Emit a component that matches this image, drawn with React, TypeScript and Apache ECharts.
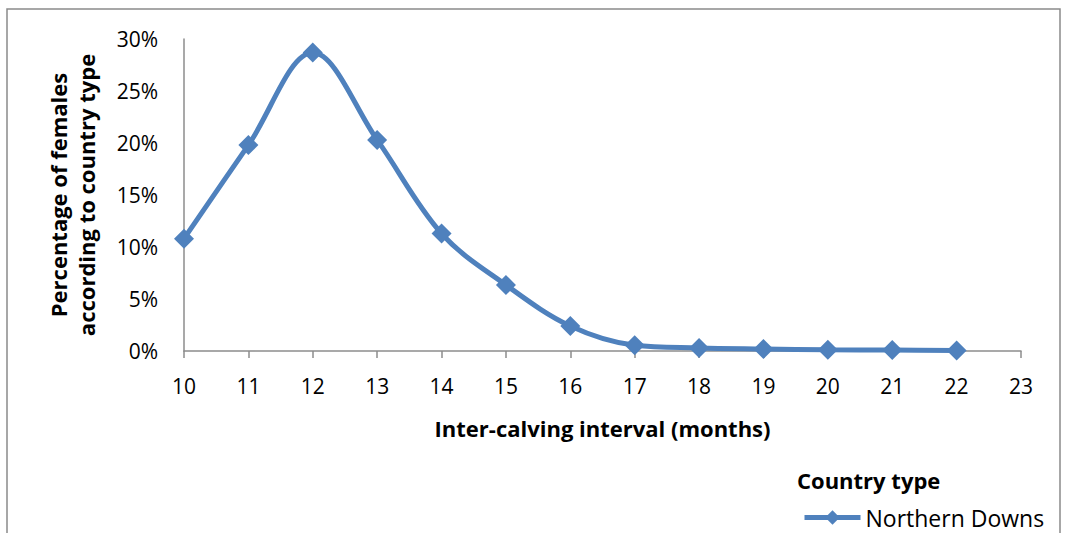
import React, { useEffect, useRef } from "react";
import * as echarts from "echarts";

// Inter-calving interval (months) and share of females, Northern Downs
const months = [10, 11, 12, 13, 14, 15, 16, 17, 18, 19, 20, 21, 22];
const northernDowns = [10.8, 19.8, 28.7, 20.3, 11.3, 6.35, 2.4, 0.55, 0.3, 0.2, 0.12, 0.1, 0.05];
const yTicks = [0, 5, 10, 15, 20, 25, 30];

const BLUE = "#4F81BD";
const AXIS = "#8c8c8c";
const FONT = "'Open Sans', 'Noto Sans', sans-serif";

export default function App() {
  const ref = useRef<HTMLDivElement>(null);

  useEffect(() => {
    if (!ref.current) return;
    const chart = echarts.init(ref.current, null, { renderer: "svg" });
    chart.setOption({
      animation: false,
      backgroundColor: "#ffffff",
      textStyle: { fontFamily: FONT, color: "#000" },
      grid: { left: 184, right: 44, top: 39, bottom: 182 },
      title: {
        text: "Country type",
        left: 792,
        top: 464,
        textStyle: { fontFamily: FONT, fontSize: 22, fontWeight: "bold", color: "#000" },
      },
      legend: {
        left: 797,
        top: 501,
        itemWidth: 56,
        itemHeight: 18,
        itemGap: 4,
        lineStyle: { width: 5 },
        textStyle: { fontFamily: FONT, fontSize: 23, color: "#000" },
        data: ["Northern Downs"],
      },
      xAxis: {
        type: "value",
        min: 10,
        max: 23,
        interval: 1,
        name: "Inter-calving interval (months)",
        nameLocation: "middle",
        nameGap: 66,
        nameTextStyle: { fontFamily: FONT, fontSize: 22, fontWeight: "bold", color: "#000" },
        axisLine: { show: true, lineStyle: { color: AXIS, width: 1.5 } },
        axisTick: { show: true, length: 7, lineStyle: { color: AXIS, width: 1.5 } },
        axisLabel: { fontFamily: FONT, fontSize: 21, color: "#000", margin: 24 },
        splitLine: { show: false },
      },
      yAxis: {
        type: "value",
        min: yTicks[0],
        max: yTicks[yTicks.length - 1],
        interval: 5,
        name: "Percentage of females\naccording to country type",
        nameLocation: "middle",
        nameGap: 84,
        nameRotate: 90,
        nameTextStyle: {
          fontFamily: FONT,
          fontSize: 22,
          fontWeight: "bold",
          color: "#000",
          lineHeight: 28,
        },
        axisLine: { show: true, lineStyle: { color: AXIS, width: 1.5 } },
        axisTick: { show: false },
        axisLabel: {
          fontFamily: FONT,
          fontSize: 21,
          color: "#000",
          margin: 26,
          formatter: (v: number) => `${v}%`,
        },
        splitLine: { show: false },
      },
      graphic: [
        {
          type: "rect",
          silent: true,
          shape: { x: 7, y: 9, width: 1053, height: 560 },
          style: { fill: "none", stroke: "#8a8a8a", lineWidth: 1.5 },
          z: -1,
        },
      ],
      series: [
        {
          name: "Northern Downs",
          type: "line",
          smooth: 0.35,
          data: months.map((m, i) => [m, northernDowns[i]]),
          symbol: "diamond",
          symbolSize: 20,
          lineStyle: { color: BLUE, width: 5 },
          itemStyle: { color: BLUE },
        },
      ],
    });
    return () => chart.dispose();
  }, []);

  return (
    <div
      ref={ref}
      style={{ position: "absolute", left: 0, top: 0, width: 1065, height: 533 }}
    />
  );
}
